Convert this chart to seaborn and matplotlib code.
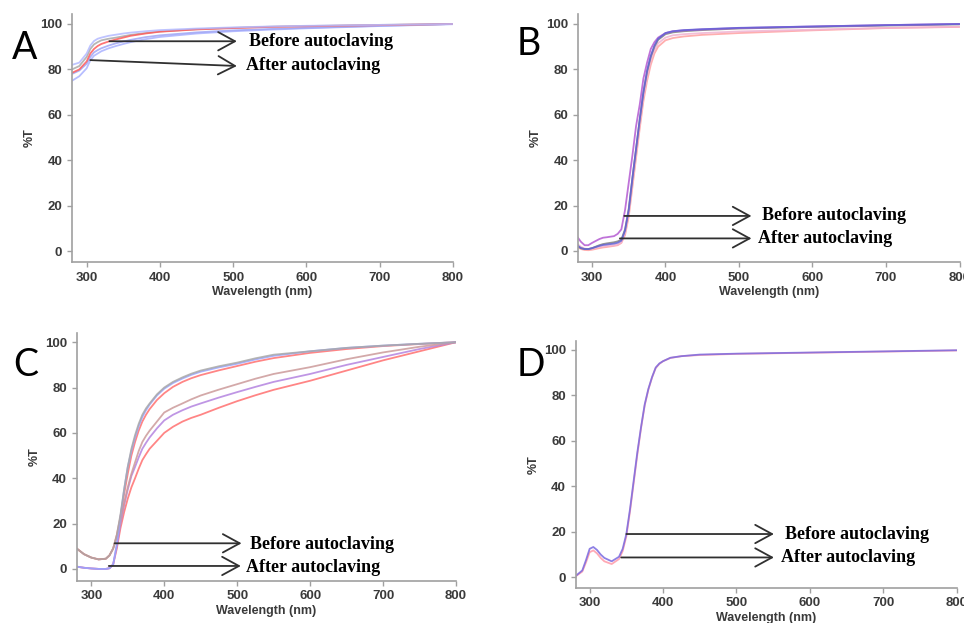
import pandas as pd
import matplotlib
matplotlib.use('Agg')
import matplotlib.pyplot as plt
import seaborn as sns

# ---- data ----
# panel A
nm_a = [280, 290, 300, 305, 310, 315, 320, 330, 340, 350, 360, 380, 400, 450, 500, 550, 600, 700, 800]
a_blue_top = [82, 83, 87, 90.5, 92.5, 93.5, 94, 94.8, 95.3, 95.8, 96.2, 96.8, 97.3, 98, 98.5, 98.9, 99.2, 99.6, 100]
a_grey = [80, 81.5, 85.5, 89, 91, 92, 92.8, 93.5, 94, 94.6, 95.2, 96, 96.7, 97.7, 98.3, 98.8, 99.1, 99.6, 100]
a_red = [78.5, 80, 83.5, 87, 89, 90.3, 91.2, 92.3, 93.2, 94, 94.8, 95.8, 96.6, 97.6, 98.2, 98.7, 99, 99.5, 100]
a_blue_mid = [78, 79.5, 82.5, 85.5, 87.5, 88.5, 89.3, 90.5, 91.5, 92.3, 93, 94.2, 95, 96.3, 97.2, 97.8, 98.3, 99.2, 100]
a_blue_low = [75, 77, 80.5, 84, 86, 87, 88, 89.3, 90.3, 91.2, 92, 93.3, 94.3, 95.8, 96.8, 97.5, 98.1, 99.1, 99.9]

# panel B
nm_b = [280, 285, 290, 295, 300, 310, 315, 320, 330, 335, 340, 345, 350, 355, 360, 365, 370, 375, 380,
        385, 390, 400, 410, 425, 450, 500, 600, 700, 800]
b_purple = [6.2, 4, 2.5, 2.5, 3.5, 5.2, 5.8, 6, 6.5, 7.5, 9.5, 18, 30, 42, 55, 64.5, 76, 83, 89,
            92, 94, 96, 96.8, 97.2, 97.6, 98.2, 98.9, 99.5, 100]
b_blue = [2.5, 1.2, 0.8, 0.8, 1.2, 2.2, 2.6, 2.8, 3.2, 3.6, 4.5, 9, 18, 32, 45, 58, 70, 79.5, 86,
          90.5, 93.5, 96, 96.8, 97.3, 97.7, 98.3, 98.9, 99.5, 100]
b_grey = [2, 1.2, 0.8, 0.8, 1.2, 2.5, 3, 3.3, 3.8, 4.2, 5, 9.5, 18.5, 32, 45, 58, 70, 79, 85.5,
          90, 93, 95.5, 96.3, 96.8, 97.3, 98, 98.7, 99.3, 99.8]
b_pink = [3, 1.8, 1, 0.8, 1, 1.8, 2, 2.2, 2.5, 2.8, 3.8, 8, 17, 30, 43, 56, 68, 77, 84,
          88.5, 91.5, 94, 95, 95.5, 96, 96.7, 97.5, 98.3, 98.8]
b_red = [1.8, 0.8, 0.4, 0.3, 0.5, 1.2, 1.5, 1.7, 2.2, 2.5, 3.5, 7, 15, 28, 41, 54, 66, 75, 82,
         87, 90, 92.8, 93.8, 94.5, 95.2, 96, 97.2, 98.2, 98.7]

# panel C
nm_c = [280, 290, 300, 310, 320, 325, 330, 335, 340, 345, 350, 355, 360, 365, 370, 375, 380, 390, 400,
        412, 425, 437, 450, 475, 500, 525, 550, 600, 650, 700, 750, 800]
c_grey = [9, 6.5, 5, 4.2, 4.5, 6, 9, 15, 24, 35, 45, 53, 59, 64, 68, 70.8, 73, 77, 80,
          82.5, 84.5, 86.1, 87.5, 89.4, 91, 92.9, 94.5, 96, 97.5, 98.5, 99.3, 100]
c_blue = [1, 0.5, 0.2, 0, 0, 0.3, 2, 11, 23, 35, 45, 52, 58, 63, 67, 70, 72.5, 76.5, 79.5,
          82, 84, 85.6, 87, 88.9, 90.5, 92.4, 94, 96, 97.5, 98.5, 99.3, 100]
c_red_top = [9, 6.5, 5, 4.2, 4.5, 6, 9, 15, 23, 33, 42, 50, 56, 61, 65, 68, 70.5, 74.5, 77.5,
             80.3, 82.5, 84.1, 85.5, 87.6, 89.5, 91.4, 93, 95.3, 97, 98.3, 99.2, 100]
c_brown = [9, 6.5, 5, 4.2, 4.5, 6, 9, 14, 21, 29, 36, 42, 47, 52, 56, 58.7, 61, 65, 69,
           71.1, 73, 74.8, 76.5, 79.1, 81.5, 83.9, 86, 89, 92.5, 95.5, 98, 100]
c_purple = [1, 0.5, 0.2, 0, 0, 0.3, 2, 10, 20, 28, 35, 41, 45, 49.2, 53, 55.6, 58, 62, 65.5,
            68, 70, 71.6, 73, 75.6, 78, 80.3, 82.5, 86, 90, 93.5, 97, 100]
c_red_low = [1, 0.5, 0.2, 0, 0, 0.3, 2, 9, 18, 25, 31, 36, 40, 44.2, 48, 50.6, 53, 56.5, 60,
             62.7, 65, 66.6, 68, 71.1, 74, 76.6, 79, 83, 87.5, 92, 96, 100]

# panel D
nm_d = [280, 290, 295, 300, 305, 310, 315, 320, 330, 340, 345, 350, 355, 360, 365, 370, 375, 380,
        385, 390, 395, 400, 410, 425, 450, 500, 600, 700, 800]
d_blue = [0.3, 3, 7.5, 12.5, 13.3, 12, 10, 8.5, 7, 9, 12.5, 19, 30, 42.5, 55, 66, 76, 82.8,
          88, 92.2, 94, 95, 96.5, 97.2, 97.9, 98.3, 98.8, 99.3, 99.8]
d_pink = [0.2, 2.5, 6.5, 11, 11.8, 10.5, 8.5, 7, 5.8, 8, 11.5, 18, 29, 41.5, 54, 65.5, 75.5, 82.5,
          87.8, 92, 93.8, 95, 96.4, 97.2, 97.7, 98.2, 98.7, 99.2, 99.7]


def long_form(nm, curves):
    rows = []
    for name, vals in curves.items():
        for w, t in zip(nm, vals):
            rows.append({'nm': w, 'T': t, 'curve': name})
    return pd.DataFrame(rows)


panels = [
    dict(label='A', nm=nm_a, rect=[72, 14, 453, 262], xlim=(280, 800), ylim=(-4.8, 104.4),
         curves={'blue_low': a_blue_low, 'blue_mid': a_blue_mid, 'grey': a_grey, 'red': a_red,
                 'blue_top': a_blue_top},
         palette={'blue_low': '#aab2ff', 'blue_mid': '#a0a6f5', 'grey': '#a9a9a9', 'red': '#ff5c5c',
                  'blue_top': '#b4baff'},
         before=((331, 92.4), (505, 92.4), (522, 92.3)),
         after=((305, 84.1), (505, 81.5), (517, 81.6)),
         letter_xy=(12, 59)),
    dict(label='B', nm=nm_b, rect=[578, 14, 959.5, 262], xlim=(281, 800), ylim=(-4.9, 104.4),
         curves={'red': b_red, 'pink': b_pink, 'grey': b_grey, 'purple': b_purple, 'blue': b_blue},
         palette={'red': '#ffa0a0', 'pink': '#f0b4d2', 'grey': '#808080', 'purple': '#b45ad2',
                  'blue': '#6262d6'},
         before=((344, 15.4), (517, 15.4), (531, 15.6)),
         after=((338, 5.5), (517, 5.5), (526, 5.6)),
         letter_xy=(517, 55)),
    dict(label='C', nm=nm_c, rect=[76.7, 332.7, 456, 580.7], xlim=(280, 800), ylim=(-5.2, 104.2),
         curves={'red_low': c_red_low, 'purple': c_purple, 'brown': c_brown, 'red_top': c_red_top,
                 'blue': c_blue, 'grey': c_grey},
         palette={'red_low': '#ff7070', 'purple': '#b484e0', 'brown': '#cc9a9a', 'red_top': '#ff7070',
                  'blue': '#9aa4ff', 'grey': '#a8a8a8'},
         before=((332, 11.3), (506, 11.3), (518, 10.7)),
         after=((324, 1.3), (505, 1.3), (512, 0.8)),
         letter_xy=(13, 376)),
    dict(label='D', nm=nm_d, rect=[575.7, 340.7, 956.7, 587.7], xlim=(281, 800), ylim=(-4.6, 104),
         curves={'pink': d_pink, 'blue': d_blue},
         palette={'pink': '#ff9aa8', 'blue': '#7a6ae0'},
         before=((350, 19), (551, 19), (566, 18.8)),
         after=((343, 8.7), (551, 8.7), (561, 8.8)),
         letter_xy=(517, 376)),
]

sns.set_style('ticks')
plt.rcParams['font.family'] = ['Liberation Sans', 'DejaVu Sans']

W, H = 964, 623
fig = plt.figure(figsize=(W / 100, H / 100), dpi=100)

for p in panels:
    x0, y0, x1, y1 = p['rect']
    ax = fig.add_axes([x0 / W, 1 - y1 / H, (x1 - x0) / W, (y1 - y0) / H])
    df = long_form(p['nm'], p['curves'])
    sns.lineplot(data=df, x='nm', y='T', hue='curve', palette=p['palette'], legend=False,
                 ax=ax, lw=1.3, alpha=0.85)
    ax.set_xlim(*p['xlim'])
    ax.set_ylim(*p['ylim'])
    ax.set_xticks([300, 400, 500, 600, 700, 800])
    ax.set_yticks([0, 20, 40, 60, 80, 100])
    for s in ['top', 'right']:
        ax.spines[s].set_visible(False)
    for s in ['left', 'bottom']:
        ax.spines[s].set_color('#a0a0a0')
        ax.spines[s].set_linewidth(1.2)
    ax.tick_params(length=3.5, width=1, color='#a0a0a0', labelsize=9.5, labelcolor='#3a3a3a', pad=3.5)
    for lab in ax.get_xticklabels() + ax.get_yticklabels():
        lab.set_fontweight('bold')
    ax.set_xlabel('Wavelength (nm)', fontsize=9, fontweight='bold', color='#3a3a3a', labelpad=2)
    ax.set_ylabel('%T', fontsize=9, fontweight='bold', color='#3a3a3a', labelpad=3)

    for key, txt in [('before', 'Before autoclaving'), ('after', 'After autoclaving')]:
        start, end, tpos = p[key]
        ax.annotate('', xy=end, xytext=start,
                    arrowprops=dict(arrowstyle='->,head_length=0.55,head_width=0.3',
                                    color='#303030', lw=1.3, mutation_scale=22,
                                    shrinkA=0, shrinkB=0))
        ax.text(tpos[0], tpos[1], txt, family='Liberation Serif', fontweight='bold',
                fontsize=13, color='black', ha='left', va='center')

    lx, ly = p['letter_xy']
    fig.text(lx / W, 1 - ly / H, p['label'], family='Lato', fontsize=27, color='black',
             ha='left', va='baseline')

fig.savefig('out.png', dpi=100)
